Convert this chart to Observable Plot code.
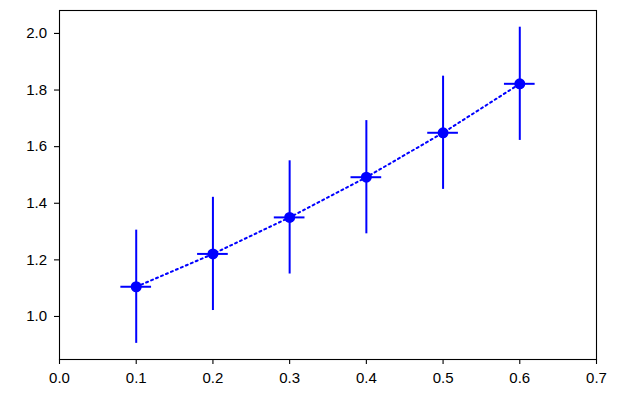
<!DOCTYPE html>
<html>
<head>
<meta charset="utf-8">
<script src="https://cdn.jsdelivr.net/npm/d3@7"></script>
<script src="https://cdn.jsdelivr.net/npm/@observablehq/plot@0.6"></script>
<style>
  html, body { margin: 0; padding: 0; background: #fff; }
  svg { display: block; }
</style>
</head>
<body>
<div id="chart"></div>
<script>
const xValues = [0.1, 0.2, 0.3, 0.4, 0.5, 0.6];
const yValues = [1.105, 1.221, 1.350, 1.492, 1.649, 1.822];
const xErr = [0.02, 0.02, 0.02, 0.02, 0.02, 0.02];
const yErr = [0.2, 0.2, 0.2, 0.2, 0.2, 0.2];
const xTicks = [0.0, 0.1, 0.2, 0.3, 0.4, 0.5, 0.6, 0.7];
const yTicks = [1.0, 1.2, 1.4, 1.6, 1.8, 2.0];

const data = xValues.map((x, i) => ({x, y: yValues[i], xe: xErr[i], ye: yErr[i]}));
const blue = "#0000ff";

const chart = Plot.plot({
  width: 640,
  height: 403,
  marginLeft: 59,
  marginRight: 44,
  marginTop: 10,
  marginBottom: 44,
  style: {fontFamily: "'Liberation Sans', Arial, sans-serif", fontSize: "15px", color: "#000", background: "#fff"},
  x: {domain: [0, 0.7]},
  y: {domain: [0.848, 2.081]},
  marks: [
    Plot.ruleX(data, {x: "x", y1: d => d.y - d.ye, y2: d => d.y + d.ye, stroke: blue, strokeWidth: 2}),
    Plot.ruleY(data, {y: "y", x1: d => d.x - d.xe, x2: d => d.x + d.xe, stroke: blue, strokeWidth: 2}),
    Plot.line(data, {x: "x", y: "y", stroke: blue, strokeWidth: 2, strokeDasharray: "2,3.4"}),
    Plot.dot(data, {x: "x", y: "y", r: 5.5, fill: blue, stroke: "none"}),
    Plot.frame({stroke: "#000", strokeWidth: 1.1}),
    Plot.axisX({ticks: xTicks, tickFormat: d3.format(".1f"), tickSize: 5, tickPadding: 8, label: null, stroke: "#000", strokeWidth: 1.1, fill: "#000", fontSize: 15}),
    Plot.axisY({ticks: yTicks, tickFormat: d3.format(".1f"), tickSize: 5, tickPadding: 7.5, label: null, stroke: "#000", strokeWidth: 1.1, fill: "#000", fontSize: 15})
  ]
});
document.getElementById("chart").appendChild(chart);
</script>
</body>
</html>
